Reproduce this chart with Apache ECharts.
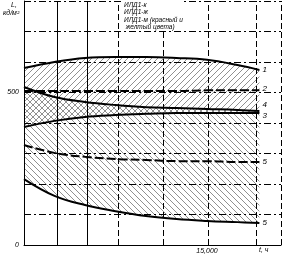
<!DOCTYPE html>
<html>
<head>
<meta charset="utf-8">
<script src="https://cdn.jsdelivr.net/npm/echarts@6/dist/echarts.min.js"></script>
<style>
  html, body { margin: 0; padding: 0; background: #fff; }
  #chart { width: 284px; height: 258px; }
</style>
</head>
<body>
<div id="chart"></div>
<script>
// время наработки, ч
const hours = [0, 2500, 5000, 7500, 10000, 12500, 15000, 17500, 19300]
// яркость L, кд/м2
const curve1 = [580, 600, 613, 616, 616, 613, 607, 590, 574]
const curve2 = [505, 505, 505, 505, 505, 505, 507, 507, 507]
const curve4 = [518, 485, 469, 459, 452, 449, 446, 443, 439]
const curve3 = [387, 407, 420, 426, 430, 433, 433, 433, 433]
const curve5a = [328, 302, 289, 282, 279, 275, 275, 272, 272]
const curve5b = [216, 161, 131, 111, 95, 85, 79, 75, 72]

const xTickLabels = [15000]
const yTickLabels = [0, 500]
const xGridLines = [2700, 5160, 7700, 11390, 15080, 19000, 21070]
const legendLines = ['ИЛД1-к', 'ИЛД1-ж', 'ИЛД1-м (красный и', ' желтый цвета)']

const FONT = 'Liberation Sans'

function hatch(dir) {
  const c = document.createElement('canvas')
  c.width = c.height = 6
  const g = c.getContext('2d')
  g.strokeStyle = 'rgba(0,0,0,0.55)'
  g.lineWidth = 0.8
  g.beginPath()
  if (dir > 0) {
    g.moveTo(0, 6); g.lineTo(6, 0)
    g.moveTo(-1, 1); g.lineTo(1, -1)
    g.moveTo(5, 7); g.lineTo(7, 5)
  } else {
    g.moveTo(0, 0); g.lineTo(6, 6)
    g.moveTo(5, -1); g.lineTo(7, 1)
    g.moveTo(-1, 5); g.lineTo(1, 7)
  }
  g.stroke()
  return c
}

const pairs = (arr) => arr.map((v, i) => [hours[i], v])
// value first, so the stack works on L and not on t
const valFirst = (arr) => arr.map((v, i) => [v, hours[i]])
const diff = (top, bot) => top.map((v, i) => [v - bot[i], hours[i]])

function band(stack, data, pattern) {
  return {
    type: 'line', stack, data, smooth: 0.4, symbol: 'none', silent: true,
    encode: { x: 1, y: 0 },
    lineStyle: { width: 0 },
    areaStyle: pattern ? { color: { image: pattern, repeat: 'repeat' }, opacity: 1 } : undefined,
    z: 1
  }
}

function curve(data, label, dash, offset) {
  return {
    type: 'line', data: pairs(data), smooth: 0.4, symbol: 'none', silent: true,
    lineStyle: { color: '#000', width: 2, type: dash || 'solid' },
    endLabel: {
      show: true, formatter: label, color: '#000', fontSize: 8,
      fontFamily: FONT, fontStyle: 'italic', distance: 3,
      offset: offset || [0, 0]
    },
    z: 3
  }
}

const chart = echarts.init(document.getElementById('chart'))

chart.setOption({
  animation: false,
  grid: { left: 24, right: 3, top: 1, bottom: 13 },
  xAxis: {
    type: 'value', min: 0, max: 21070,
    axisLine: { lineStyle: { color: '#000', width: 1 } },
    axisTick: { show: false },
    splitLine: { show: false },
    axisLabel: {
      customValues: xTickLabels, color: '#000', fontSize: 7,
      fontFamily: FONT, fontStyle: 'italic', margin: 3
    }
  },
  yAxis: {
    type: 'value', min: 0, max: 800, interval: 100,
    axisLine: { show: true, lineStyle: { color: '#000', width: 1 } },
    axisTick: { show: false },
    splitLine: { lineStyle: { color: '#000', width: 1, type: [7, 3, 2, 3] } },
    axisLabel: {
      color: '#000', fontSize: 7, fontFamily: FONT, fontStyle: 'italic', margin: 5,
      formatter: (v) => yTickLabels.includes(v) ? String(v) : ''
    }
  },
  graphic: [
    { type: 'text', left: 11, top: 2, style: { text: 'L,', fontSize: 7, fontFamily: FONT, fontStyle: 'italic', fill: '#000' } },
    { type: 'text', left: 3, top: 10, style: { text: 'кд/м²', fontSize: 7, fontFamily: FONT, fontStyle: 'italic', fill: '#000' } },
    { type: 'text', left: 259, top: 247, style: { text: 't, ч', fontSize: 7, fontFamily: FONT, fontStyle: 'italic', fill: '#000' } },
    {
      type: 'text', left: 124, top: 1,
      style: {
        text: legendLines.join('\n'), fontSize: 6.5, lineHeight: 7.5,
        fontFamily: FONT, fontStyle: 'italic', fill: '#000', backgroundColor: '#fff'
      },
      z: 10
    }
  ],
  series: [
    band('k', valFirst(curve3), null),
    band('k', diff(curve1, curve3), hatch(1)),
    band('zh', valFirst(curve5b), null),
    band('zh', diff(curve4, curve5b), hatch(-1)),
    {
      type: 'line', data: [], silent: true,
      markLine: {
        symbol: 'none', silent: true, label: { show: false },
        lineStyle: { color: '#000', width: 1, type: [7, 3, 2, 3] },
        data: xGridLines.map((v, i) => ({
          xAxis: v,
          lineStyle: { type: i < 2 ? 'solid' : [6, 3] }
        }))
      }
    },
    curve(curve1, '1'),
    curve(curve2, '2', [9, 3], [0, -2]),
    curve(curve4, '4', null, [0, -6]),
    curve(curve3, '3', null, [0, 3]),
    curve(curve5a, '5', [9, 3]),
    curve(curve5b, '5')
  ]
})
</script>
</body>
</html>
